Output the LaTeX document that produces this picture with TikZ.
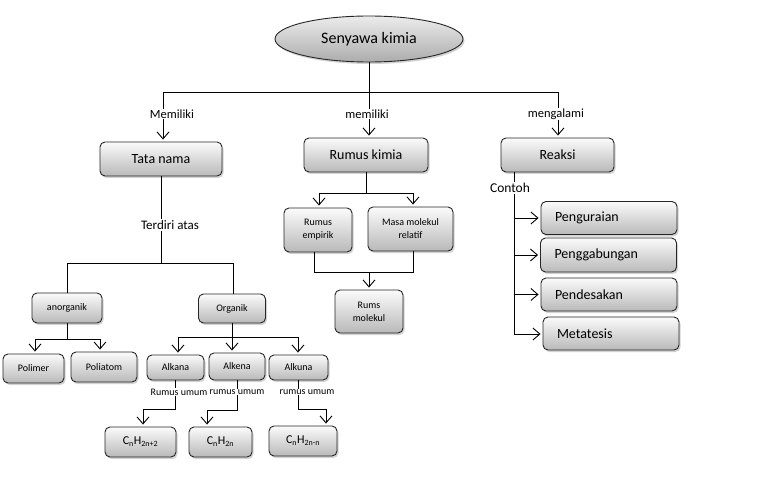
\documentclass[tikz,border=0pt]{standalone}
\usepackage{fontspec}
\setmainfont{Carlito}
\usetikzlibrary{shapes.geometric,shadows,arrows.meta}
\begin{document}
\begin{tikzpicture}[x=1pt,y=-1pt,
 line width=0.9pt,
 shade/.style={draw=black!85, top color=white!97!gray, bottom color=gray!55,
   drop shadow={shadow xshift=1.5pt,shadow yshift=-2pt,opacity=0.35},
   inner sep=0pt, align=center, text=black},
 box/.style={shade, rounded corners=5pt},
 big/.style={font=\fontsize{14}{16}\selectfont},
 small/.style={font=\fontsize{10}{13}\selectfont},
 form/.style={font=\fontsize{12}{14}\selectfont},
 lbl/.style={fill=white, inner sep=1pt, font=\fontsize{12.5}{14}\selectfont},
 arr/.style={-{Straight Barb[length=7pt,width=12pt,line width=0.9pt]}, shorten >=2pt},
 sz/.style 2 args={minimum width=#1pt, minimum height=#2pt},
 rx/.style={box, big, text width=108pt, inner xsep=14pt, align=left, minimum height=33pt},
]
\useasboundingbox (0,0) rectangle (773,481);

% nodes
\node[shade, ellipse, sz={188}{46}, font=\fontsize{16}{18}\selectfont, top color=white!85!gray, bottom color=gray!65] (ell) at (369,39) {Senyawa kimia};
\node[box,big,sz={122}{34}] (tata) at (161,159) {Tata nama};
\node[box,big,sz={124}{34}] (rumus) at (366,155) {Rumus kimia};
\node[box,big,sz={113}{34}] (reaksi) at (557.5,155) {Reaksi};
\node[box,small,sz={68}{44}] (emp) at (318,230) {Rumus\\empirik};
\node[box,small,sz={85}{44}] (masa) at (410.5,229) {Masa molekul\\relatif};
\node[box,small,sz={68}{43}] (rums) at (369,311.5) {Rums\\molekul};
\node[rx] (p1) at (609,218) {Penguraian};
\node[rx, minimum height=34pt] (p2) at (608.5,255) {Penggabungan};
\node[rx] (p3) at (609,294.5) {Pendesakan};
\node[rx] (p4) at (611,333.5) {Metatesis};
\node[box,small,sz={70}{30}] (anorg) at (67,308) {anorganik};
\node[box,small,sz={67}{29}] (org) at (232,308.5) {Organik};
\node[box,small,sz={61}{29}] (poli) at (33.5,368.5) {Polimer};
\node[box,small,sz={66}{30}] (polia) at (104,367) {Poliatom};
\node[box,small,sz={57}{25}] (alkana) at (175.5,367.5) {Alkana};
\node[box,small,sz={56}{27}] (alkena) at (237,366.5) {Alkena};
\node[box,small,sz={59}{25}] (alkuna) at (298.5,367.5) {Alkuna};
\node[box,form,sz={71}{30}] (f1) at (140.5,442) {C\textsubscript{n}H\textsubscript{2n+2}};
\node[box,form,sz={63}{30}] (f2) at (220.5,442) {C\textsubscript{n}H\textsubscript{2n}};
\node[box,form,sz={68}{30}] (f3) at (303,441) {C\textsubscript{n}H\textsubscript{2n-n}};

% top level
\coordinate (jL) at (163,92);
\coordinate (jR) at (558,92);
\draw (ell.south) -- (ell.south |- jL);
\draw (jL) -- (jR);
\draw[arr] (jL) -- (jL |- tata.north);
\draw[arr] (ell.south |- jL) -- (ell.south |- rumus.north);
\draw[arr] (jR) -- (jR |- reaksi.north);
\node[lbl] (l1) at (172,114) {Memiliki};
\node[lbl] (l2) at (367,114) {memiliki};
\node[lbl] (l3) at (556,114) {mengalami};

% tata nama
\coordinate (tl) at (67,263);
\coordinate (tr) at (233,263);
\draw (tata.south) -- (tata.south |- tl);
\draw (tl) -- (tr);
\draw (tl) -- (tl |- anorg.north);
\draw (tr) -- (tr |- org.north);
\node[lbl, font=\fontsize{13}{15}\selectfont] (l4) at (170,225) {Terdiri atas};

% anorganik
\coordinate (aL) at (35,339);
\coordinate (aR) at (100,339);
\draw (anorg.south) -- (anorg.south |- aL);
\draw (aL) -- (aR);
\draw[arr] (aL) -- (aL |- poli.north);
\draw[arr] (aR) -- (aR |- polia.north);

% organik
\coordinate (oL) at (178,337);
\coordinate (oR) at (298,337);
\draw (org.south) -- (org.south |- oL);
\draw (oL) -- (oR);
\draw[arr] (oL) -- (oL |- alkana.north);
\draw[arr] (org.south |- oL) -- (org.south |- alkena.north);
\draw[arr] (oR) -- (oR |- alkuna.north);

% rumus umum
\coordinate (k1) at (143,409);
\coordinate (k2) at (207,410);
\coordinate (k3) at (326,409);
\draw[arr] (alkana.south) |- (k1) -- (k1 |- f1.north);
\draw[arr] (alkena.south) |- (k2) -- (k2 |- f2.north);
\draw[arr] (alkuna.south) |- (k3) -- (k3 |- f3.north);
\node[lbl, font=\fontsize{10}{12}\selectfont, inner sep=0.5pt] (u1) at (179,392) {Rumus umum};
\node[lbl, font=\fontsize{10}{12}\selectfont, inner sep=0.5pt] (u2) at (237,392) {rumus umum};
\node[lbl, font=\fontsize{10}{12}\selectfont, inner sep=0.5pt] (u3) at (307,392) {rumus umum};

% rumus kimia
\coordinate (r1) at (319,193);
\coordinate (r2) at (413,193);
\draw (rumus.south) -- (rumus.south |- r1);
\draw (r1) -- (r2);
\draw[arr] (r1) -- (r1 |- emp.north);
\draw[arr] (r2) -- (r2 |- masa.north);
\coordinate (m1) at (314,272);
\coordinate (m2) at (413,272);
\draw (m1 |- emp.south) -- (m1) -- (m2) -- (m2 |- masa.south);
\draw[arr] (rums.north |- m1) -- (rums.north);

% reaksi
\coordinate (rx) at (514,334);
\draw (rx |- reaksi.south) -- (rx);
\draw[arr] (rx |- p1.west) -- (p1.west);
\draw[arr] (rx |- p2.west) -- (p2.west);
\draw[arr] (rx |- p3.west) -- (p3.west);
\draw[arr] (rx) -- (rx -| p4.west);
\node[lbl, font=\fontsize{13.5}{15}\selectfont] (l5) at (510,188) {Contoh};
\end{tikzpicture}
\end{document}
